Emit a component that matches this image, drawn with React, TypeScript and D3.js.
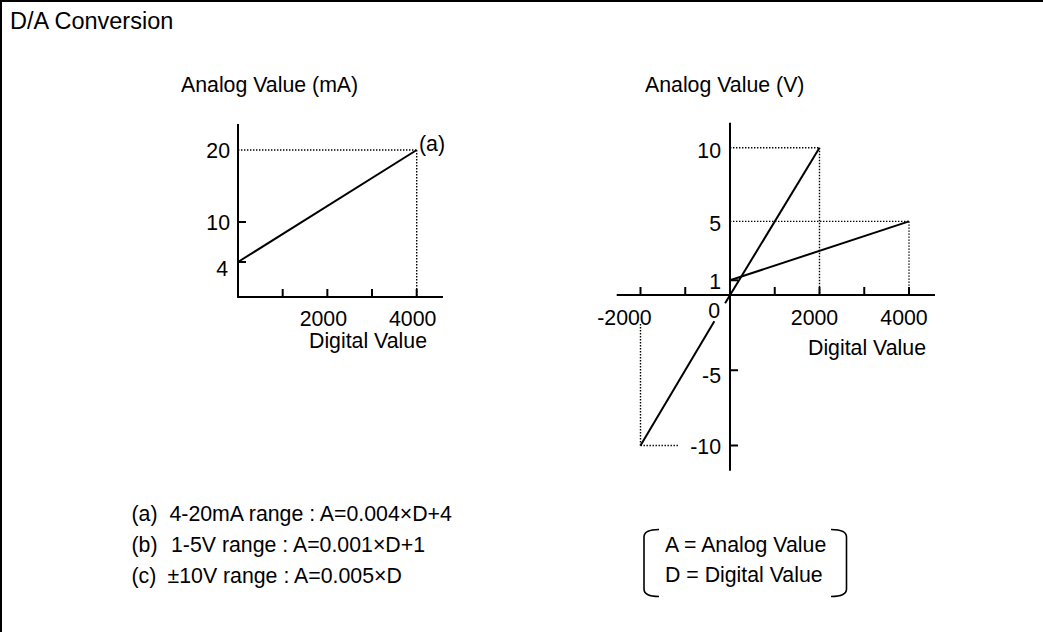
import React from "react";
import * as d3 from "d3";

// ---------- data ----------
const title = "D/A Conversion";

// left chart (4-20 mA)
const leftYTitle = "Analog Value (mA)";
const leftXTitle = "Digital Value";
const leftXTicks = [1000, 2000, 3000, 4000];
const leftXTickLabels = [2000, 4000];
const leftYTickMarks = [4, 10];
const leftYTickLabels = [20, 10, 4];
const lineA = [
  { d: 0, a: 4 },
  { d: 4000, a: 20 },
];
const lineALabel = "(a)";

// right chart (1-5 V and ±10 V)
const rightYTitle = "Analog Value (V)";
const rightXTitle = "Digital Value";
const rightXTicks = [-2000, -1000, 1000, 2000, 3000, 4000];
const rightXTickLabels = [-2000, 2000, 4000];
const rightYTickMarks = [1, -5, -10];
const rightYTickLabels = [10, 5, 1, -5, -10];
const lineB = [
  { d: 0, a: 1 },
  { d: 4000, a: 5 },
];
const lineCUpper = [
  { d: -110, a: -0.55 },
  { d: 2000, a: 10 },
];
const lineCLower = [
  { d: -2000, a: -10 },
  { d: -350, a: -1.75 },
];

const formulaTags = ["(a)", "(b)", "(c)"];
const formulas = [
  "4-20mA range : A=0.004×D+4",
  "1-5V range : A=0.001×D+1",
  "±10V range : A=0.005×D",
];
const legendLines = ["A = Analog Value", "D = Digital Value"];

// ---------- component ----------
const FONT = "'Liberation Sans', Arial, Helvetica, sans-serif";
const FS = 21.3;

export default function App() {
  // left scales
  const xL = d3.scaleLinear().domain([0, 4000]).range([238, 416.7]);
  const yL = d3.scaleLinear().domain([4, 10, 20]).range([262, 222, 150]);
  const axisLY = 297;
  // right scales
  const xR = d3.scaleLinear().domain([0, 4000]).range([730, 909]);
  const yR = d3.scaleLinear().domain([-10, 0, 10]).range([445.5, 295, 147.8]);

  const lineL = d3
    .line<{ d: number; a: number }>()
    .x((p) => xL(p.d))
    .y((p) => yL(p.a));
  const lineR = d3
    .line<{ d: number; a: number }>()
    .x((p) => xR(p.d))
    .y((p) => yR(p.a));

  const dot = { stroke: "#000", strokeWidth: 1.4, strokeDasharray: "1.4,1.6", fill: "none" };
  const solid = { stroke: "#000", strokeWidth: 2, fill: "none" };

  const x0L = xL(0);
  const x0R = xR(0);
  const y0R = yR(0);

  return (
    <svg
      width={1043}
      height={632}
      style={{ position: "absolute", left: 0, top: 0, background: "#fff" }}
      fontFamily={FONT}
      fontSize={FS}
    >
      <rect x={1} y={1} width={1060} height={660} fill="#fff" stroke="#000" strokeWidth={2} />
      <text x={10} y={28.5} fontSize={23.5}>
        {title}
      </text>

      {/* ---------- left chart ---------- */}
      <text x={181} y={92}>{leftYTitle}</text>
      {/* dotted guides */}
      <line x1={x0L} x2={xL(4000)} y1={yL(20)} y2={yL(20)} style={dot} />
      <line x1={xL(4000)} x2={xL(4000)} y1={yL(20)} y2={axisLY} style={dot} />
      {/* axes */}
      <line x1={x0L} x2={x0L} y1={124} y2={axisLY + 1} style={solid} />
      <line x1={x0L - 1} x2={443} y1={axisLY} y2={axisLY} style={solid} />
      {leftXTicks.map((t) => (
        <line key={t} x1={xL(t)} x2={xL(t)} y1={axisLY} y2={axisLY - 8} style={solid} />
      ))}
      {leftYTickMarks.map((t) => (
        <line key={t} x1={x0L} x2={x0L + 8} y1={yL(t)} y2={yL(t)} style={solid} />
      ))}
      {leftYTickLabels.map((t) => (
        <text key={t} x={t === 4 ? 228 : 230} y={yL(t) + (t === 4 ? 14 : 7.5)} textAnchor="end">
          {t}
        </text>
      ))}
      {leftXTickLabels.map((t) => (
        <text key={t} x={xL(t) - 4} y={326} textAnchor="middle">
          {t}
        </text>
      ))}
      <text x={368} y={348} textAnchor="middle">{leftXTitle}</text>
      <path d={lineL(lineA) || ""} style={solid} />
      <text x={419} y={151}>{lineALabel}</text>

      {/* ---------- right chart ---------- */}
      <text x={645} y={92}>{rightYTitle}</text>
      {/* dotted guides */}
      <line x1={x0R} x2={xR(2000)} y1={yR(10)} y2={yR(10)} style={dot} />
      <line x1={xR(2000)} x2={xR(2000)} y1={yR(10)} y2={y0R} style={dot} />
      <line x1={x0R} x2={xR(4000)} y1={yR(5)} y2={yR(5)} style={dot} />
      <line x1={xR(4000)} x2={xR(4000)} y1={yR(5)} y2={y0R} style={dot} />
      <line x1={xR(-2000)} x2={xR(-2000)} y1={yR(-10)} y2={324} style={dot} />
      <line x1={xR(-2000)} x2={679} y1={yR(-10)} y2={yR(-10)} style={dot} />
      {/* axes */}
      <line x1={x0R} x2={x0R} y1={122.7} y2={470.7} style={solid} />
      <line x1={616.7} x2={935} y1={y0R} y2={y0R} style={solid} />
      {rightXTicks.map((t) => (
        <line key={t} x1={xR(t)} x2={xR(t)} y1={y0R} y2={y0R - 8} style={solid} />
      ))}
      {rightYTickMarks.map((t) => (
        <line key={t} x1={x0R} x2={x0R + 8} y1={yR(t)} y2={yR(t)} style={solid} />
      ))}
      {rightYTickLabels.map((t) => (
        <text
          key={t}
          x={721}
          y={yR(t) + (t === 1 ? 8.5 : t < 0 ? 8 + (t === -5 ? 5 : 0) : 10)}
          textAnchor="end"
        >
          {t}
        </text>
      ))}
      <text x={720} y={318} textAnchor="end">0</text>
      {rightXTickLabels.map((t) => (
        <text key={t} x={xR(t) - (t < 0 ? 16 : 5)} y={324.5} textAnchor="middle">
          {t}
        </text>
      ))}
      <text x={867} y={355} textAnchor="middle">{rightXTitle}</text>
      <path d={lineR(lineB) || ""} style={solid} />
      <path d={lineR(lineCUpper) || ""} style={solid} />
      <path d={lineR(lineCLower) || ""} style={solid} />

      {/* ---------- formulas ---------- */}
      {formulas.map((f, i) => (
        <g key={i}>
          <text x={131.5} y={520.5 + i * 31}>{formulaTags[i]}</text>
          <text x={i === 1 ? 171 : i === 2 ? 167.5 : 169.5} y={520.5 + i * 31}>{f}</text>
        </g>
      ))}

      {/* ---------- legend box ---------- */}
      <path d="M 659 529.5 Q 644 529.5 644 537 L 644 589 Q 644 596.5 659 596.5" style={{ ...solid, strokeWidth: 1.6 }} />
      <path d="M 831 529.5 Q 846.5 529.5 846.5 537 L 846.5 589 Q 846.5 596.5 831 596.5" style={{ ...solid, strokeWidth: 1.6 }} />
      {legendLines.map((l, i) => (
        <text key={i} x={665} y={552 + i * 30}>{l}</text>
      ))}
    </svg>
  );
}
